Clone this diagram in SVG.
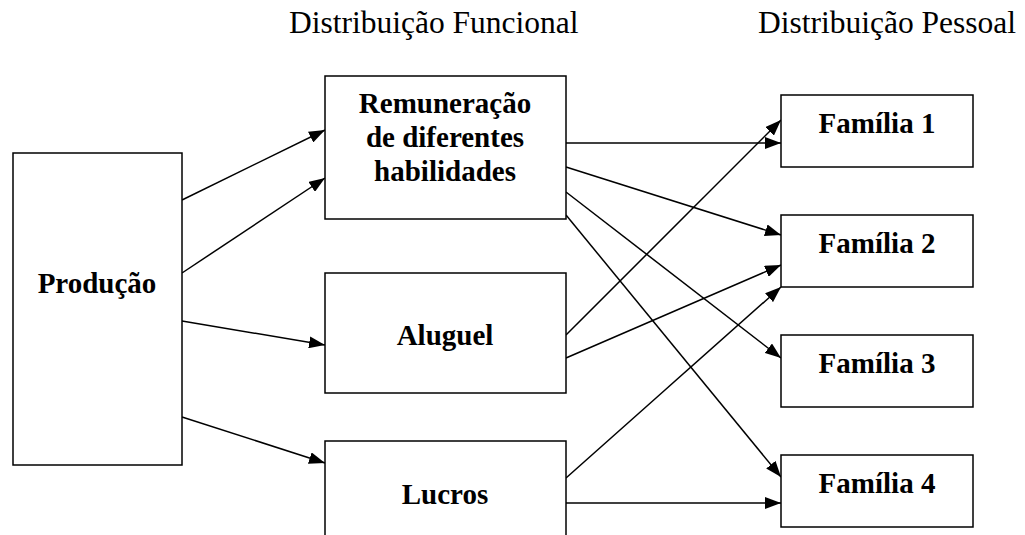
<svg xmlns="http://www.w3.org/2000/svg" width="1025" height="535" viewBox="0 0 1025 535">
  <style>
    .box { fill: #ffffff; stroke: #000000; stroke-width: 1.5; }
    .lbl { font-family: "Liberation Serif", "Times New Roman", serif; font-weight: bold; font-size: 29px; fill: #000000; text-anchor: middle; }
    .head { font-family: "Liberation Serif", "Times New Roman", serif; font-size: 31.5px; fill: #000000; }
    .conn line { stroke: #000000; stroke-width: 1.5; fill: none; marker-end: url(#arr); }
  </style>
  <defs>
    <marker id="arr" markerUnits="userSpaceOnUse" markerWidth="16" markerHeight="12" refX="16" refY="6" orient="auto">
      <path d="M0,0 L16,6 L0,12 z" fill="#000000"/>
    </marker>
  </defs>
  <rect width="1025" height="535" fill="#ffffff"/>

  <g id="headings">
    <text class="head" x="289" y="33">Distribuição Funcional</text>
    <text class="head" x="758" y="33">Distribuição Pessoal</text>
  </g>

  <g id="connectors" class="conn">
    <line x1="182" y1="200" x2="325" y2="130"/>
    <line x1="182" y1="273" x2="325" y2="178"/>
    <line x1="182" y1="321" x2="325" y2="345"/>
    <line x1="182" y1="417" x2="325" y2="463"/>
    <line x1="566" y1="143" x2="781" y2="143"/>
    <line x1="566" y1="167" x2="781" y2="235"/>
    <line x1="566" y1="192" x2="781" y2="358"/>
    <line x1="566" y1="215" x2="781" y2="477"/>
    <line x1="566" y1="335" x2="781" y2="120"/>
    <line x1="566" y1="358" x2="781" y2="265"/>
    <line x1="566" y1="478" x2="781" y2="287"/>
    <line x1="566" y1="503" x2="781" y2="503"/>
  </g>

  <g id="producao">
    <rect class="box" x="13" y="153" width="169" height="312"/>
    <text class="lbl" x="97" y="293">Produção</text>
  </g>
  <g id="remuneracao">
    <rect class="box" x="325" y="76" width="241" height="143"/>
    <text class="lbl" x="445" y="113">Remuneração</text>
    <text class="lbl" x="445" y="147">de diferentes</text>
    <text class="lbl" x="445" y="181">habilidades</text>
  </g>
  <g id="aluguel">
    <rect class="box" x="325" y="273" width="241" height="120"/>
    <text class="lbl" x="445" y="345">Aluguel</text>
  </g>
  <g id="lucros">
    <rect class="box" x="325" y="441" width="241" height="110"/>
    <text class="lbl" x="445" y="504">Lucros</text>
  </g>
  <g id="familia1">
    <rect class="box" x="781" y="95" width="192" height="72"/>
    <text class="lbl" x="877" y="133">Família 1</text>
  </g>
  <g id="familia2">
    <rect class="box" x="781" y="215" width="192" height="72"/>
    <text class="lbl" x="877" y="253">Família 2</text>
  </g>
  <g id="familia3">
    <rect class="box" x="781" y="335" width="192" height="72"/>
    <text class="lbl" x="877" y="373">Família 3</text>
  </g>
  <g id="familia4">
    <rect class="box" x="781" y="455" width="192" height="72"/>
    <text class="lbl" x="877" y="493">Família 4</text>
  </g>
</svg>
